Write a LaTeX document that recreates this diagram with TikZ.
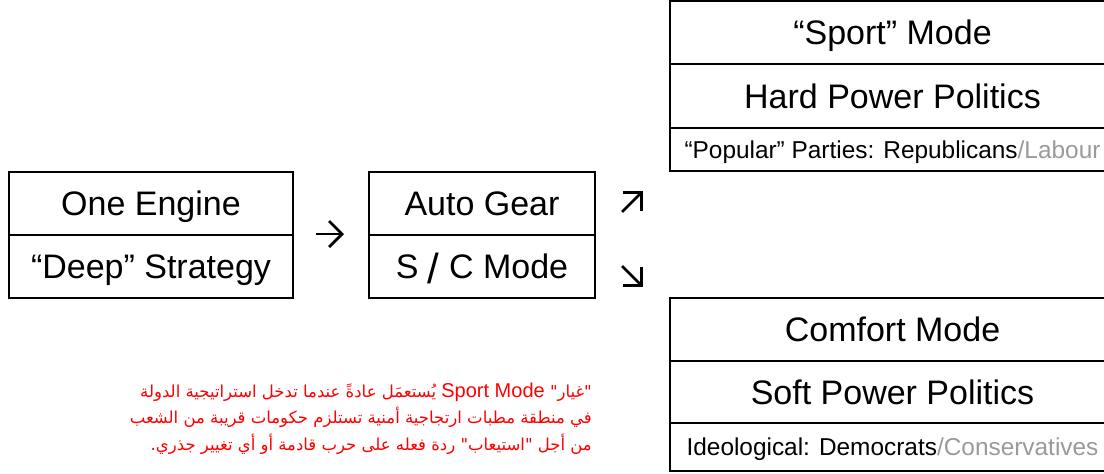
\documentclass[tikz,border=0pt]{standalone}
\usepackage{fontspec}
\setmainfont{Liberation Sans}
\newfontfamily\arabicfont[Script=Arabic]{DejaVu Sans}
\TeXXeTstate=1
\usetikzlibrary{arrows.meta}
\definecolor{partygray}{HTML}{9A9A9A}
\definecolor{notered}{HTML}{FF0000}

\tikzset{
  cell/.style={draw, line width=2pt, inner sep=0pt, anchor=north west,
    font=\fontsize{34}{40}\selectfont, text height=24.3pt, text depth=0pt},
  smallcell/.style={cell, font=\fontsize{24.4}{29}\selectfont,
    text height=17.5pt},
  glyph arrow/.style={line width=2.8pt,
    -{Straight Barb[length=13pt, width=26pt]}},
  note/.style={text=notered, align=right, inner sep=0pt, anchor=base east,
    font=\arabicfont\fontsize{16.5}{26.5}\selectfont}
}
\newcommand\latinpart[1]{{\normalfont\fontsize{20}{26.5}\selectfont #1}}

\begin{document}
\begin{tikzpicture}[x=1pt, y=-1pt]
\useasboundingbox[fill=white] (0,0) rectangle (1104,474);

% engine block
\node[cell, minimum width=284pt, minimum height=63pt] (engine) at (8,171) {One Engine};
\node[cell, minimum width=284pt, minimum height=63pt] (deep) at (8,234) {“Deep” Strategy};

% gearbox block
\node[cell, minimum width=226pt, minimum height=63pt] (gear) at (368,171) {Auto Gear};
\node[cell, minimum width=226pt, minimum height=63pt] (scmode) at (368,234)
  {S \raisebox{-5pt}{\fontsize{42}{44}\selectfont /} C Mode};

% sport mode column
\node[cell, minimum width=445pt, minimum height=63pt] (sport) at (669,0) {“Sport” Mode};
\node[cell, minimum width=445pt, minimum height=64pt] (hard) at (669,63) {Hard Power Politics};
\node[smallcell, minimum width=445pt, minimum height=43pt] (popular) at (669,127)
  {“Popular” Parties: Republicans\textcolor{partygray}{/Labour}};

% comfort mode column
\node[cell, minimum width=445pt, minimum height=63.5pt] (comfort) at (669,296.5) {Comfort Mode};
\node[cell, minimum width=445pt, minimum height=62pt] (soft) at (669,360) {Soft Power Politics};
\node[smallcell, minimum width=445pt, minimum height=47.5pt] (ideo) at (669,422)
  {Ideological: Democrats\textcolor{partygray}{/Conservatives}};

% arrows between the blocks
\draw[glyph arrow, shorten <=22pt, shorten >=24pt] (deep.north east) -- (scmode.north west);
\coordinate (upA) at (622,212);
\coordinate (upB) at (643,191);
\draw[glyph arrow] (upA) -- (upB);
\coordinate (downA) at (622,266);
\coordinate (downB) at (643,287);
\draw[glyph arrow] (downA) -- (downB);

% red note, each line set right to left; the anchor is the last baseline
\node[note] (note) at (592,450)
  {\beginR "غيار" \beginL\latinpart{Sport Mode}\endL\ يُستعمَل عادةً عندما تدخل استراتيجية الدولة\endR\\
   \beginR في منطقة مطبات ارتجاجية أمنية تستلزم حكومات قريبة من الشعب\endR\\
   \beginR من أجل "استيعاب" ردة فعله على حرب قادمة أو أي تغيير جذري.\endR};
\end{tikzpicture}
\end{document}
